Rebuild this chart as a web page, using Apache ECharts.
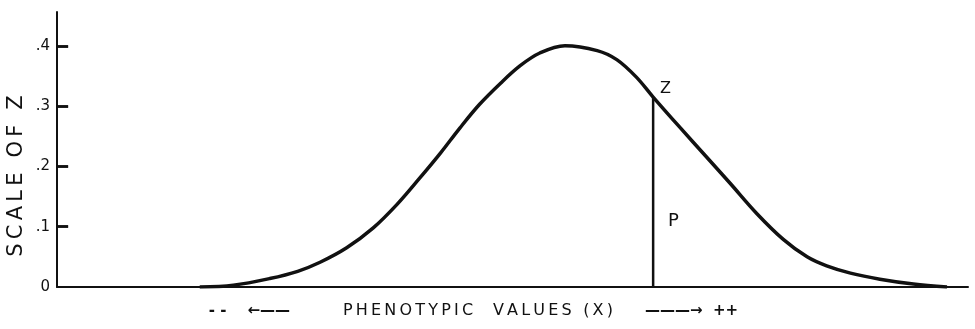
<!DOCTYPE html>
<html>
<head>
<meta charset="utf-8">
<script src="https://cdn.jsdelivr.net/npm/echarts@6/dist/echarts.min.js"></script>
<style>
  html, body { margin: 0; padding: 0; background: #fff; }
  #chart { width: 975px; height: 329px; }
</style>
</head>
<body>
<div id="chart"></div>
<script>
// x in standard deviations from the mean, z = ordinate of the curve
var curveX = [-2.61, -2.37, -2.11, -1.91, -1.75, -1.56, -1.37, -1.20, -1.04, -0.89, -0.75, -0.61, -0.46, -0.32, -0.18, 0.00,
  0.23, 0.37, 0.51, 0.63, 0.82, 1.01, 1.18, 1.37, 1.56, 1.73, 1.87, 2.04, 2.25, 2.49, 2.73];
var curveZ = [0.000, 0.003, 0.014, 0.026, 0.041, 0.065, 0.098, 0.137, 0.180, 0.222, 0.264, 0.303, 0.338, 0.367, 0.388, 0.400,
  0.392, 0.377, 0.348, 0.315, 0.265, 0.216, 0.172, 0.122, 0.079, 0.050, 0.035, 0.023, 0.013, 0.005, 0.000];

// the ordinate drawn at the point of truncation
var cutX = 0.63;
var cutZ = 0.315;

var xMin = -3.63;
var xMax = 2.88;
var yTicks = [0, 0.1, 0.2, 0.3, 0.4];
var yTitle = "SCALE OF Z";
var xTitle = "PHENOTYPIC  VALUES (X)";

var chartDom = document.getElementById("chart");
var myChart = echarts.init(chartDom);

var ink = "#111";
var font = "DejaVu Sans";

function spaced(s) {
  return s.split("").join("\u2009");
}

var data = curveX.map(function (x, i) {
  return [x, curveZ[i]];
});

// short ticks on the inner side of the z axis
var tickLen = 0.08;
var tickMarks = yTicks.slice(1).map(function (v) {
  return [{ coord: [xMin, v] }, { coord: [xMin + tickLen, v] }];
});

var option = {
  animation: false,
  backgroundColor: "#fff",
  grid: {
    left: 57,
    right: 7,
    top: 12,
    bottom: 42,
  },
  xAxis: {
    type: "value",
    min: xMin,
    max: xMax,
    axisLine: { show: true, onZero: false, lineStyle: { color: ink, width: 2 } },
    axisTick: { show: false },
    axisLabel: { show: false },
    splitLine: { show: false },
  },
  yAxis: {
    type: "value",
    min: 0,
    max: 0.456,
    interval: 0.1,
    axisLine: { show: true, onZero: false, lineStyle: { color: ink, width: 2 } },
    axisTick: {
      show: true,
      inside: true,
      length: 11,
      customValues: yTicks.slice(1),
      lineStyle: { color: ink, width: 2.5 },
    },
    axisLabel: {
      margin: 7,
      color: ink,
      fontFamily: font,
      fontSize: 15,
      showMaxLabel: false,
      formatter: function (v) {
        if (v > 0.401) return "";
        if (v === 0) return "0";
        return "." + Math.round(v * 10);
      },
    },
    splitLine: { show: false },
  },
  series: [
    {
      type: "line",
      data: data,
      smooth: 0.35,
      symbol: "none",
      lineStyle: { color: ink, width: 3.5 },
      markLine: {
        silent: true,
        symbol: "none",
        label: { show: false },
        lineStyle: { color: ink, width: 2.5, type: "solid" },
        data: tickMarks,
      },
    },
    {
      type: "line",
      data: [[cutX, 0], [cutX, cutZ]],
      symbol: "none",
      lineStyle: { color: ink, width: 2.5 },
    },
  ],
  graphic: [
    {
      type: "text",
      x: 17,
      y: 176,
      rotation: Math.PI / 2,
      style: {
        text: spaced(yTitle),
        font: "21px '" + font + "'",
        fill: ink,
        align: "center",
        verticalAlign: "middle",
      },
    },
    {
      type: "text",
      x: 290,
      y: 311,
      style: {
        text: "- -    \u2190\u2014\u2014",
        font: "bold 15px '" + font + "'",
        fill: ink,
        align: "right",
        verticalAlign: "middle",
      },
    },
    {
      type: "text",
      x: 478,
      y: 311,
      style: {
        text: spaced(xTitle),
        font: "16px '" + font + "'",
        fill: ink,
        align: "center",
        verticalAlign: "middle",
      },
    },
    {
      type: "text",
      x: 645,
      y: 311,
      style: {
        text: "\u2014\u2014\u2014\u2192  ++",
        font: "bold 15px '" + font + "'",
        fill: ink,
        align: "left",
        verticalAlign: "middle",
      },
    },
    {
      type: "text",
      x: 660,
      y: 89,
      style: {
        text: "Z",
        font: "16px '" + font + "'",
        fill: ink,
        verticalAlign: "middle",
      },
    },
    {
      type: "text",
      x: 668,
      y: 221,
      style: {
        text: "P",
        font: "18px '" + font + "'",
        fill: ink,
        verticalAlign: "middle",
      },
    },
  ],
};

option && myChart.setOption(option);
</script>
</body>
</html>
